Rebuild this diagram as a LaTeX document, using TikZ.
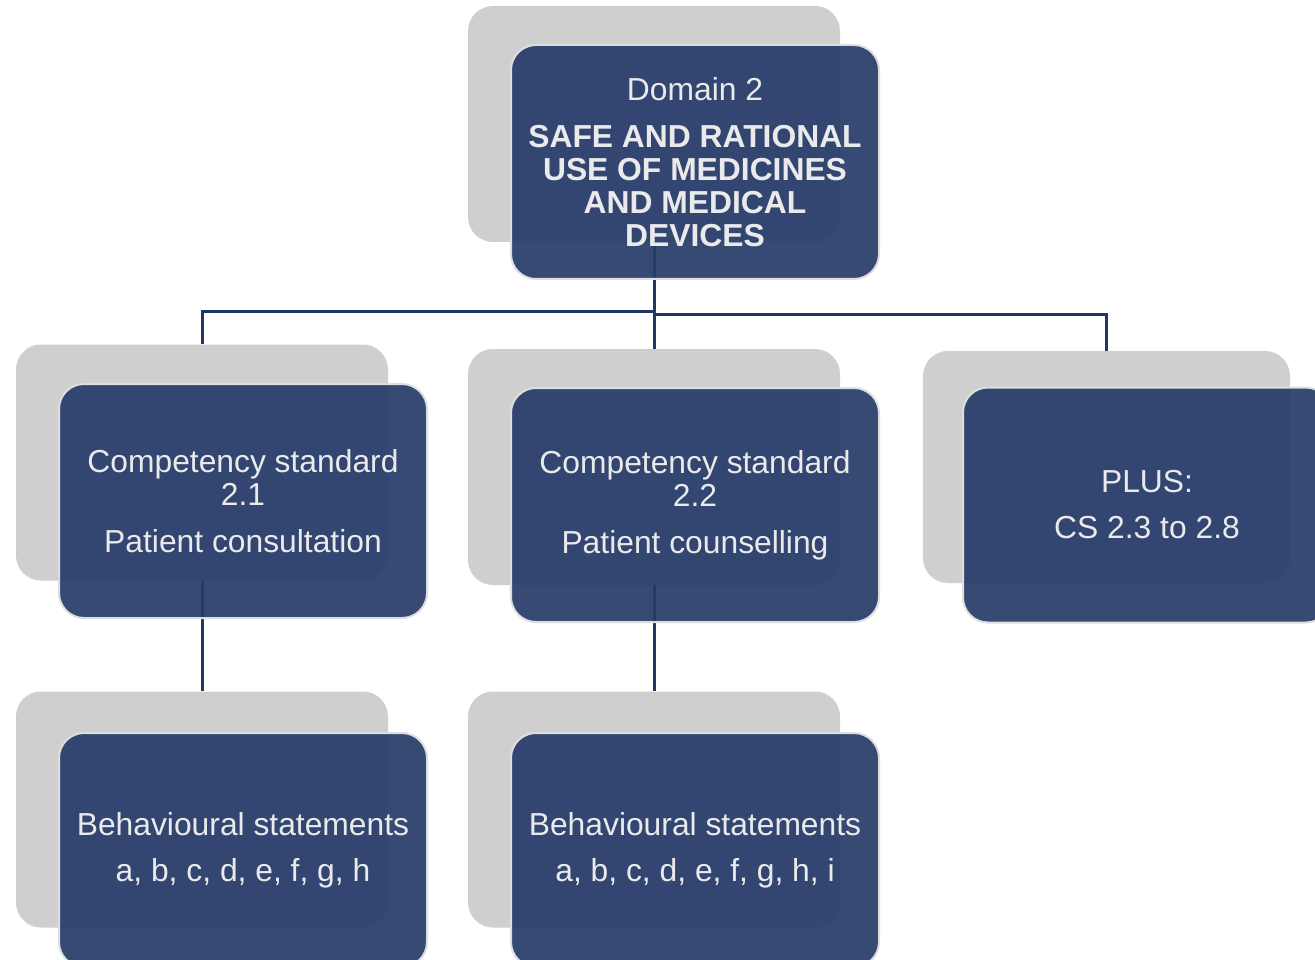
\documentclass[tikz,border=0pt]{standalone}
\usepackage{fontspec}
\setmainfont{Liberation Sans}
\definecolor{greybox}{HTML}{D0CFD0}
\definecolor{navyfill}{RGB}{38,59,105}
\definecolor{boxedge}{HTML}{DEDEDE}
\definecolor{linknavy}{HTML}{1F3864}
\definecolor{textgrey}{HTML}{EAEAEA}
\pgfdeclarelayer{bg}
\pgfsetlayers{bg,main}
\tikzset{
  backcard/.style={fill=greybox, draw=none, rounded corners=25pt, inner sep=0pt,
    minimum width=372pt, minimum height=236pt},
  frontcard/.style={fill=navyfill, fill opacity=0.92, text opacity=1, draw=boxedge,
    line width=2pt, rounded corners=25pt, inner sep=0pt,
    minimum width=368pt, minimum height=234pt, text=textgrey, align=center,
    font=\fontsize{31.8}{33}\selectfont},
  link/.style={draw=linknavy, line width=3pt}
}
\begin{document}
\begin{tikzpicture}[x=1pt,y=-1pt]
\useasboundingbox (0,0) rectangle (1315,960);
\clip (0,0) rectangle (1315,960);
% back cards
\node[backcard] (g0) at (654,124) {};
\node[backcard] (g1) at (202,462.5) {};
\node[backcard] (g2) at (654,467) {};
\node[backcard, minimum width=367pt, minimum height=232pt] (g3) at (1106.5,467) {};
\node[backcard] (g4) at (202,809.5) {};
\node[backcard] (g5) at (654,809.5) {};
% front cards
\node[frontcard] (d0) at (695,162) {Domain 2\\[14pt]\textbf{SAFE AND RATIONAL}\\\textbf{USE OF MEDICINES}\\\textbf{AND MEDICAL}\\\textbf{DEVICES}};
\node[frontcard] (d1) at (243,501) {Competency standard\\2.1\\[14pt]Patient consultation};
\node[frontcard] (d2) at (695,505) {Competency standard\\2.2\\[14pt]Patient counselling};
\node[frontcard, minimum height=235pt] (d3) at (1147,505) {PLUS:\\[13pt]CS 2.3 to 2.8};
\node[frontcard] (d4) at (243,850) {Behavioural statements\\[13pt]a, b, c, d, e, f, g, h};
\node[frontcard] (d5) at (695,850) {Behavioural statements\\[13pt]a, b, c, d, e, f, g, h, i};
% connectors
\begin{pgfonlayer}{bg}
\fill[white] (0,0) rectangle (1315,960);
\coordinate (j1) at (654,311.5);
\coordinate (j2) at (654,314.5);
\draw[link] (g0.south) -- (g2.north);
\draw[link] (j1) -| (g1.north);
\draw[link] (j2) -| (g3.north);
\draw[link] (g1.south) -- (g4.north);
\draw[link] (g2.south) -- (g5.north);
\end{pgfonlayer}
\end{tikzpicture}
\end{document}
